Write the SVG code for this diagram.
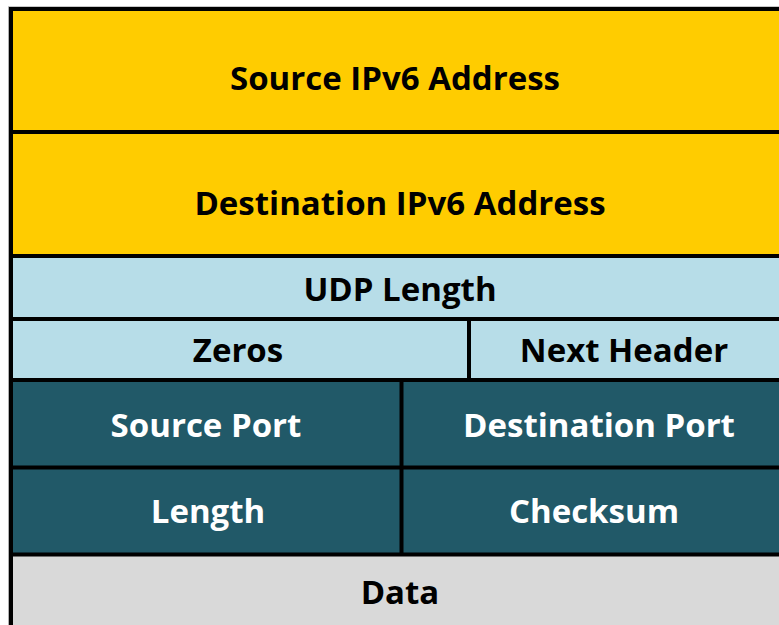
<svg xmlns="http://www.w3.org/2000/svg" width="779" height="625" viewBox="0 0 779 625">
  <style>
    .lbl { font-family: "Open Sans", "Noto Sans", "Liberation Sans", sans-serif; font-weight: bold; font-size: 33px; text-anchor: middle; }
    .dark { fill: #000000; }
    .light { fill: #FFFFFF; }
    .grid { stroke: #000000; stroke-width: 4; fill: none; }
  </style>
  <rect width="779" height="625" fill="#FFFFFF"/>

  <!-- IPv6 pseudo-header: addresses -->
  <g id="src-ipv6">
    <rect x="11" y="9" width="770" height="123" fill="#FFCC00"/>
    <text class="lbl dark" x="395" y="90">Source IPv6 Address</text>
  </g>
  <g id="dst-ipv6">
    <rect x="11" y="132" width="770" height="124" fill="#FFCC00"/>
    <text class="lbl dark" x="400" y="215">Destination IPv6 Address</text>
  </g>

  <!-- pseudo-header: length / zeros / next header -->
  <g id="udp-length">
    <rect x="11" y="256" width="770" height="63" fill="#B7DDE8"/>
    <text class="lbl dark" x="400" y="301">UDP Length</text>
  </g>
  <g id="zeros">
    <rect x="11" y="319" width="458" height="61" fill="#B7DDE8"/>
    <text class="lbl dark" x="238" y="362">Zeros</text>
  </g>
  <g id="next-header">
    <rect x="469" y="319" width="312" height="61" fill="#B7DDE8"/>
    <text class="lbl dark" x="624" y="362">Next Header</text>
  </g>

  <!-- UDP header -->
  <g id="src-port">
    <rect x="11" y="380" width="390" height="87" fill="#215968"/>
    <text class="lbl light" x="206" y="437">Source Port</text>
  </g>
  <g id="dst-port">
    <rect x="401" y="380" width="380" height="87" fill="#215968"/>
    <text class="lbl light" x="599" y="437">Destination Port</text>
  </g>
  <g id="length">
    <rect x="11" y="467" width="390" height="88" fill="#215968"/>
    <text class="lbl light" x="208" y="523">Length</text>
  </g>
  <g id="checksum">
    <rect x="401" y="467" width="380" height="88" fill="#215968"/>
    <text class="lbl light" x="594" y="523">Checksum</text>
  </g>

  <!-- payload -->
  <g id="data">
    <rect x="11" y="555" width="770" height="72" fill="#D9D9D9"/>
    <text class="lbl dark" x="400" y="604">Data</text>
  </g>

  <!-- cell borders -->
  <g id="borders">
    <line x1="8.5" y1="6" x2="8.5" y2="625" stroke="#B0B0B0" stroke-width="1"/>
    <line x1="8" y1="6.5" x2="779" y2="6.5" stroke="#C8C8C8" stroke-width="1"/>
    <line class="grid" x1="11" y1="7" x2="11" y2="625"/>
    <line class="grid" x1="9" y1="9" x2="779" y2="9"/>
    <line class="grid" x1="9" y1="132" x2="779" y2="132"/>
    <line class="grid" x1="9" y1="256" x2="779" y2="256"/>
    <line class="grid" x1="9" y1="319" x2="779" y2="319"/>
    <line class="grid" x1="9" y1="380" x2="779" y2="380"/>
    <line class="grid" x1="9" y1="467.5" x2="779" y2="467.5"/>
    <line class="grid" x1="9" y1="554.5" x2="779" y2="554.5"/>
    <line class="grid" x1="469" y1="319" x2="469" y2="380"/>
    <line class="grid" x1="401.5" y1="380" x2="401.5" y2="554.5"/>
  </g>
</svg>
